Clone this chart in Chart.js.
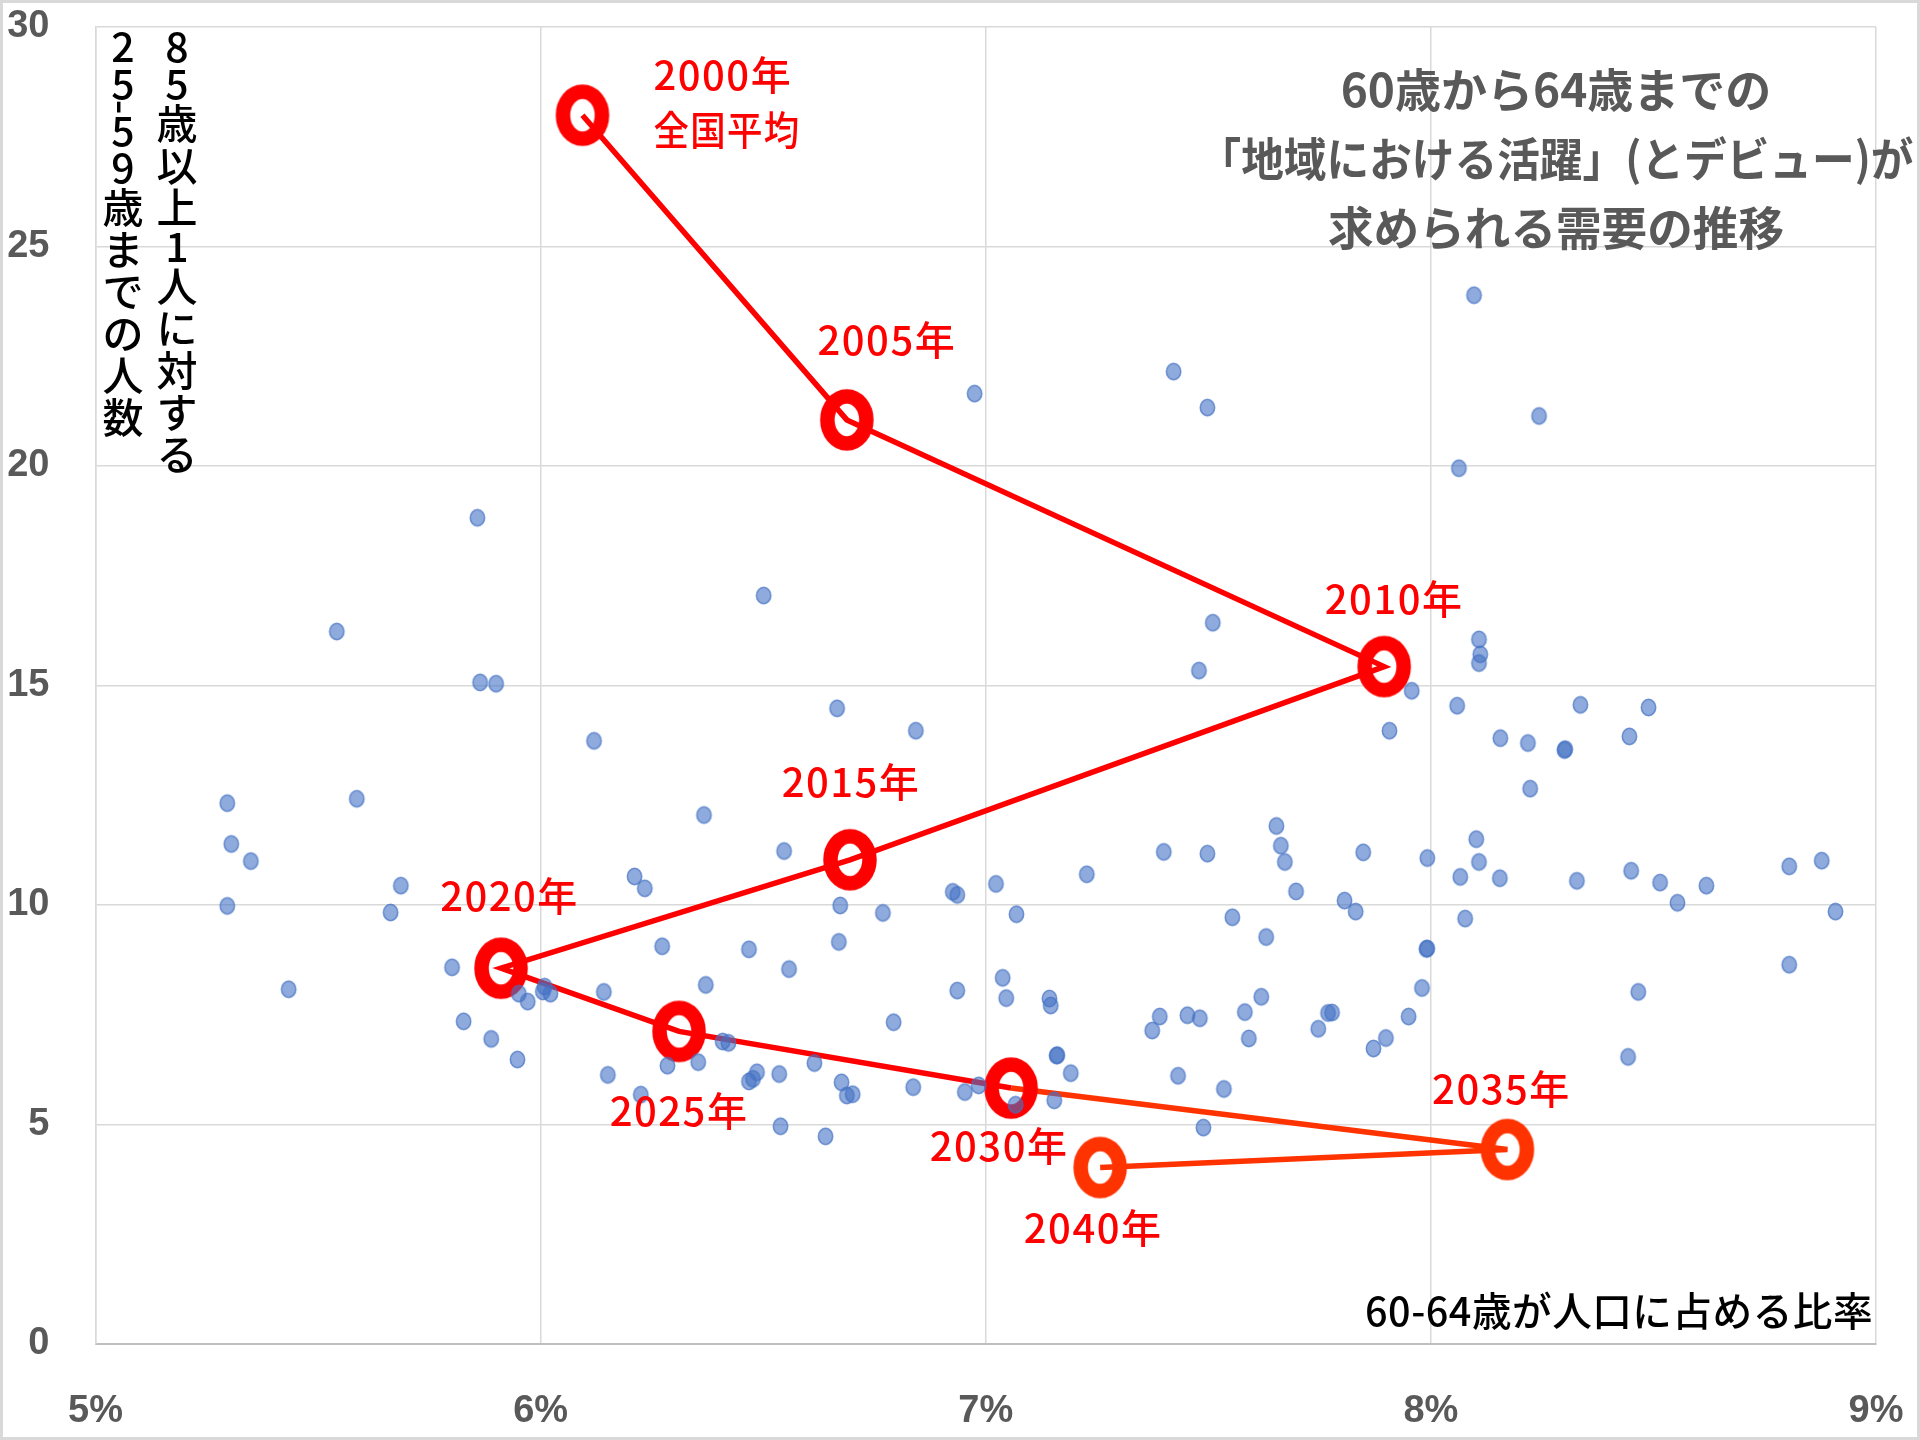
<!DOCTYPE html>
<html>
<head>
<meta charset="utf-8">
<script src="https://cdn.jsdelivr.net/npm/chart.js@4/dist/chart.umd.min.js"></script>
<style>
  html, body { margin: 0; padding: 0; background: #ffffff; }
  canvas { display: block; }
</style>
</head>
<body>
<canvas id="c" width="1920" height="1440"></canvas>
<script>
// ---------- DATA ----------
const years = ['2000年','2005年','2010年','2015年','2020年','2025年','2030年','2035年','2040年'];
const yearNotes = ['全国平均','','','','','','','',''];
const trendShare = [6.094, 6.688, 7.895, 6.695, 5.911, 6.311, 7.057, 8.172, 7.257];   // 60-64歳が人口に占める比率 (%)
const trendRatio = [27.99, 21.05, 15.43, 11.03, 8.56, 7.12, 5.83, 4.43, 4.02];        // 85歳以上1人に対する25-59歳の人数

const areaShare = [
  8.097, 7.422, 6.975, 7.498, 8.243, 8.063, 5.858, 6.501, 5.542, 7.510,
  8.108, 8.111, 8.108, 7.479, 5.864, 5.900, 7.957, 6.666, 8.059, 8.336,
  8.489, 6.843, 7.907, 8.156, 8.218, 8.300, 8.302, 8.446, 6.120, 5.296,
  5.587, 6.367, 8.223, 7.653, 5.305, 5.349, 6.547, 7.400, 7.498, 7.663,
  7.672, 7.848, 7.992, 8.102, 8.108, 8.805, 8.878, 5.686, 6.211, 6.234,
  7.227, 7.697, 8.066, 8.155, 8.328, 8.450, 8.515, 8.619, 7.023, 6.926,
  6.936, 5.296, 5.663, 6.673, 6.769, 7.069, 7.806, 7.831, 7.554, 8.077,
  8.554, 8.909, 6.670, 7.630, 6.273, 6.468, 7.990, 7.992, 6.558, 5.801,
  8.805, 5.434, 5.951, 5.971, 6.009, 6.005, 6.022, 6.142, 6.371, 6.936,
  7.038, 7.046, 7.143, 7.146, 7.980, 8.466, 7.619, 5.827, 6.793, 7.391,
  7.453, 7.481, 7.582, 7.769, 7.778, 7.950, 7.374, 7.747, 5.889, 6.409,
  6.422, 7.591, 7.899, 7.871, 7.159, 7.161, 5.948, 8.443, 6.285, 6.354,
  6.615, 6.151, 6.536, 6.486, 6.468, 6.477, 7.191, 7.432, 6.676, 6.837,
  6.984, 6.953, 7.535, 6.688, 6.701, 7.154, 7.067, 6.225, 6.539, 6.640,
  7.489
];
const areaRatio = [
  23.89, 22.15, 21.65, 21.33, 21.14, 19.95, 18.82, 17.05, 16.23, 16.43,
  16.05, 15.71, 15.51, 15.34, 15.07, 15.04, 14.88, 14.48, 14.54, 14.56,
  14.50, 13.97, 13.97, 13.80, 13.69, 13.53, 13.55, 13.84, 13.74, 12.32,
  12.42, 12.05, 12.65, 11.80, 11.39, 11.00, 11.23, 11.21, 11.17, 11.35,
  10.98, 11.20, 11.07, 11.50, 10.98, 10.88, 11.01, 10.44, 10.65, 10.38,
  10.70, 10.31, 10.64, 10.61, 10.55, 10.78, 10.51, 10.44, 10.48, 10.30,
  10.23, 9.98, 9.83, 9.99, 9.82, 9.79, 10.10, 9.85, 9.72, 9.69,
  10.05, 9.85, 9.16, 9.27, 9.06, 8.99, 9.00, 9.01, 8.54, 8.58,
  8.64, 8.08, 7.98, 7.80, 8.14, 8.03, 7.98, 8.02, 8.18, 8.05,
  8.34, 7.88, 7.87, 7.71, 8.11, 8.02, 7.91, 7.35, 7.33, 7.46,
  7.49, 7.42, 7.56, 7.54, 7.55, 7.46, 7.14, 7.18, 6.95, 6.89,
  6.86, 6.96, 6.97, 6.73, 6.57, 6.58, 6.48, 6.54, 6.34, 6.42,
  6.40, 6.13, 6.15, 6.19, 5.98, 6.04, 6.17, 6.11, 5.96, 5.85,
  5.89, 5.74, 5.81, 5.66, 5.69, 5.55, 5.45, 5.68, 4.96, 4.73,
  4.93
];

const xTickValues = [5, 6, 7, 8, 9];
const yTickValues = [0, 5, 10, 15, 20, 25, 30];

const titleLines = ['60歳から64歳までの', '「地域における活躍」(とデビュー)が', '求められる需要の推移'];
const yTitleColumns = ['85歳以上1人に対する', '25-59歳までの人数'];
const xTitle = '60-64歳が人口に占める比率';

// ---------- STYLE HELPERS ----------
const RED = '#FF0000';
const ORANGE = '#FF3300';
const FONT_CJK = '"Noto Sans CJK JP", "Noto Sans CJK SC", sans-serif';

function ringCanvas(color, rx, ry, lw) {
  const c = document.createElement('canvas');
  const w = Math.ceil(2 * rx + lw + 4), h = Math.ceil(2 * ry + lw + 4);
  c.width = w; c.height = h;
  const g = c.getContext('2d');
  g.strokeStyle = color; g.lineWidth = lw;
  g.beginPath(); g.ellipse(w / 2, h / 2, rx, ry, 0, 0, Math.PI * 2); g.stroke();
  return c;
}
function dotCanvas(rx, ry) {
  const c = document.createElement('canvas');
  const w = Math.ceil(2 * rx + 4), h = Math.ceil(2 * ry + 4);
  c.width = w; c.height = h;
  const g = c.getContext('2d');
  g.beginPath(); g.ellipse(w / 2, h / 2, rx, ry, 0, 0, Math.PI * 2);
  g.fillStyle = 'rgba(68,114,196,0.6)'; g.fill();
  g.strokeStyle = 'rgba(68,114,196,0.72)'; g.lineWidth = 1.5; g.stroke();
  return c;
}
const ringRed = ringCanvas(RED, 19.5, 23.5, 14.5);
const ringOrange = ringCanvas(ORANGE, 19.5, 23.5, 14.5);
const blueDot = dotCanvas(7.2, 8.2);

// label offsets (px from point centre) for the year annotations
const labelOffsets = [[71, -40], [40, -80], [10, -68], [1, -78], [8.5, -72.5], [0, 79], [-12, 58], [-6, -61], [-7, 60]];

const textPlugin = {
  id: 'textPlugin',
  beforeDraw(chart) {
    const ctx = chart.ctx;
    ctx.save();
    ctx.fillStyle = '#ffffff';
    ctx.fillRect(0, 0, chart.width, chart.height);
    ctx.restore();
  },
  afterDatasetsDraw(chart) {
    const ctx = chart.ctx;
    const meta = chart.getDatasetMeta(1);
    ctx.save();
    ctx.fillStyle = RED;
    ctx.textBaseline = 'middle';
    ctx.font = '500 40px ' + FONT_CJK;
    try { ctx.letterSpacing = '1.5px'; } catch (e) {}
    meta.data.forEach((pt, i) => {
      const [dx, dy] = labelOffsets[i];
      if (i === 0) {
        ctx.textAlign = 'left';
        ctx.fillText(years[i], pt.x + dx, pt.y + dy, 140);
        ctx.fillText(yearNotes[i], pt.x + dx, pt.y + 15, 147);
      } else {
        ctx.textAlign = 'center';
        ctx.fillText(years[i], pt.x + dx, pt.y + dy, 140);
      }
    });
    ctx.restore();
  },
  afterDraw(chart) {
    const ctx = chart.ctx;
    ctx.save();
    // outer chart border
    ctx.strokeStyle = '#d9d9d9';
    ctx.lineWidth = 3;
    ctx.strokeRect(1.5, 1.5, chart.width - 3, chart.height - 3);

    // title
    ctx.fillStyle = '#595959';
    ctx.font = '700 46px ' + FONT_CJK;
    ctx.textAlign = 'center';
    ctx.textBaseline = 'middle';
    const titleWidths = [440, 715, 456];
    titleLines.forEach((t, i) => ctx.fillText(t, 1556, 90 + i * 69, titleWidths[i]));

    // x axis title
    ctx.fillStyle = '#000000';
    ctx.font = '500 40px ' + FONT_CJK;
    ctx.textAlign = 'right';
    try { ctx.letterSpacing = '0.5px'; } catch (e) {}
    ctx.fillText(xTitle, 1873, 1311, 508);
    try { ctx.letterSpacing = '0px'; } catch (e) {}

    // y axis title (vertical writing, right column first)
    ctx.font = '500 41px ' + FONT_CJK;
    ctx.textAlign = 'center';
    const colX = [177, 123];
    yTitleColumns.forEach((txt, ci) => {
      let y = 28;
      for (const ch of txt) {
        const adv = /[0-9]/.test(ch) ? 37 : (ch === '-' ? 10 : 42);
        const cy = y + adv / 2;
        if (ch === '-') {
          ctx.save();
          ctx.translate(colX[ci], cy);
          ctx.rotate(Math.PI / 2);
          ctx.fillText(ch, 0, 0);
          ctx.restore();
        } else {
          ctx.fillText(ch, colX[ci], cy);
        }
        y += adv;
      }
    });
    ctx.restore();
  }
};

const tickFont = { family: '"Liberation Sans", Arial, sans-serif', size: 38, weight: 'bold' };
function noOverflowPadding(s) {
  s.paddingTop = 0; s.paddingBottom = 0; s.paddingLeft = 0; s.paddingRight = 0;
}

new Chart(document.getElementById('c'), {
  type: 'scatter',
  data: {
    datasets: [
      {
        label: '市区町村',
        data: areaShare.map((x, i) => ({ x: x, y: areaRatio[i] })),
        pointStyle: blueDot,
        pointRadius: 8,
        showLine: false
      },
      {
        label: '全国平均',
        data: trendShare.map((x, i) => ({ x: x, y: trendRatio[i] })),
        showLine: true,
        borderColor: RED,
        borderWidth: 5.5,
        tension: 0,
        fill: false,
        segment: { borderColor: c => (c.p1DataIndex >= 7 ? ORANGE : RED) },
        pointStyle: c => (c.dataIndex >= 7 ? ringOrange : ringRed),
        pointRadius: 24
      }
    ]
  },
  options: {
    responsive: false,
    animation: false,
    devicePixelRatio: 1,
    layout: { autoPadding: false, padding: { top: 27, right: 44, left: 0, bottom: 0 } },
    plugins: { legend: { display: false }, tooltip: { enabled: false } },
    events: [],
    scales: {
      x: {
        type: 'linear',
        min: 5, max: 9,
        afterBuildTicks: s => { s.ticks = xTickValues.map(v => ({ value: v })); },
        afterFit: s => { s.height = 96; noOverflowPadding(s); },
        ticks: { callback: v => v + '%', font: tickFont, color: '#595959', padding: 45, maxRotation: 0 },
        grid: { color: '#d9d9d9', lineWidth: 1.5, drawTicks: false },
        border: { display: true, color: '#bfbfbf', width: 2 }
      },
      y: {
        type: 'linear',
        min: 0, max: 30,
        afterBuildTicks: s => { s.ticks = yTickValues.map(v => ({ value: v })); },
        afterFit: s => { s.width = 95.5; noOverflowPadding(s); },
        ticks: { font: tickFont, color: '#595959', padding: 46 },
        grid: { color: '#d9d9d9', lineWidth: 1.5, drawTicks: false },
        border: { display: true, color: '#d9d9d9', width: 1.5 }
      }
    }
  },
  plugins: [textPlugin]
});
</script>
</body>
</html>
